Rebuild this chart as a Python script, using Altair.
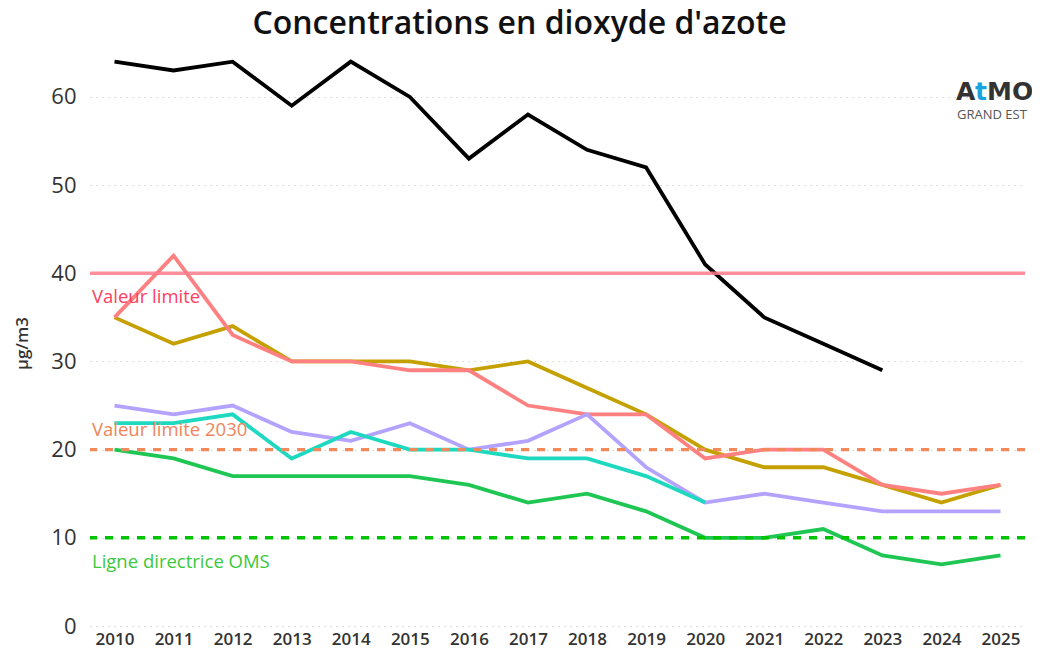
import altair as alt
import pandas as pd

years = list(range(2010, 2026))

series_names = ["Série A", "Série B", "Série C", "Série D", "Série E", "Série F"]
series_colors = ["#000000", "#C4A100", "#FF8080", "#B4A2FF", "#1ED9C0", "#1FC653"]

serie_a = [64, 63, 64, 59, 64, 60, 53, 58, 54, 52, 41, 35, 32, 29, None, None]
serie_b = [35, 32, 34, 30, 30, 30, 29, 30, 27, 24, 20, 18, 18, 16, 14, 16]
serie_c = [35, 42, 33, 30, 30, 29, 29, 25, 24, 24, 19, 20, 20, 16, 15, 16]
serie_d = [25, 24, 25, 22, 21, 23, 20, 21, 24, 18, 14, 15, 14, 13, 13, 13]
serie_e = [23, 23, 24, 19, 22, 20, 20, 19, 19, 17, 14, None, None, None, None, None]
serie_f = [20, 19, 17, 17, 17, 17, 16, 14, 15, 13, 10, 10, 11, 8, 7, 8]

ref_values = [40, 20, 10]
ref_labels = ["Valeur limite", "Valeur limite 2030", "Ligne directrice OMS"]
ref_line_colors = ["#FF7A8C", "#F08A5D", "#00C400"]
ref_text_colors = ["#FF3D5E", "#F0845A", "#3CC83C"]

all_series = [serie_a, serie_b, serie_c, serie_d, serie_e, serie_f]
rows = []
for name, vals in zip(series_names, all_series):
    for yr, v in zip(years, vals):
        if v is not None:
            rows.append({"annee": str(yr), "serie": name, "valeur": v})
df = pd.DataFrame(rows)

FONT = "Open Sans"

x_enc = alt.X(
    "annee:O",
    scale=alt.Scale(type="point", padding=0.415, domain=[str(y) for y in years]),
    axis=alt.Axis(title=None, labelAngle=0, labelFontSize=17, labelColor="#333333",
                  labelFont=FONT, labelFontWeight=600, domain=False, ticks=False,
                  grid=False, labelPadding=5),
)
y_scale = alt.Scale(domain=[0, 66], nice=False)
y_enc = alt.Y(
    "valeur:Q",
    scale=y_scale,
    axis=alt.Axis(title="µg/m3", values=[0, 10, 20, 30, 40, 50, 60], labelFontSize=22,
                  labelColor="#333333", labelFont=FONT, domain=False, ticks=False,
                  grid=True, gridColor="#d4d4d4", gridDash=[1.5, 4.5], gridWidth=1.2,
                  labelPadding=14, titleFont=FONT, titleFontSize=17, titleFontWeight=600,
                  titleColor="#333333", titlePadding=19, titleY=299),
)

lines = alt.Chart(df).mark_line(strokeWidth=3.8).encode(
    x=x_enc,
    y=y_enc,
    color=alt.Color("serie:N", scale=alt.Scale(domain=series_names, range=series_colors),
                    legend=None),
    order=alt.Order("annee:O"),
)

ref_df = pd.DataFrame({"valeur": ref_values, "label": ref_labels})

layers = []
dash_styles = [None, [8, 8], [8, 8]]
opac = [0.85, 1.0, 1.0]
for i in range(3):
    sub = ref_df.iloc[[i]]
    kw = dict(color=ref_line_colors[i], strokeWidth=3.4, opacity=opac[i])
    if dash_styles[i] is not None:
        kw["strokeDash"] = dash_styles[i]
    layers.append(alt.Chart(sub).mark_rule(**kw).encode(y=alt.Y("valeur:Q", scale=y_scale)))

text_dy = [24, -20, 24]
texts = []
for i in range(3):
    sub = ref_df.iloc[[i]]
    texts.append(
        alt.Chart(sub).mark_text(align="left", baseline="middle", fontSize=18.5, font=FONT,
                                 color=ref_text_colors[i], dy=text_dy[i]).encode(
            x=alt.value(2), y=alt.Y("valeur:Q", scale=y_scale), text="label:N")
    )

LOGO_FS = 25
logo_a = alt.Chart(pd.DataFrame({"t": ["A"]})).mark_text(
    align="left", baseline="alphabetic", fontSize=LOGO_FS, fontWeight="bold", font="DejaVu Sans",
    color="#333333").encode(x=alt.value(866), y=alt.value(56), text="t:N")
logo_t = alt.Chart(pd.DataFrame({"t": ["t"]})).mark_text(
    align="left", baseline="alphabetic", fontSize=LOGO_FS, fontWeight="bold", font="DejaVu Sans",
    color="#1BA3DD").encode(x=alt.value(885), y=alt.value(56), text="t:N")
logo_mo = alt.Chart(pd.DataFrame({"t": ["MO"]})).mark_text(
    align="left", baseline="alphabetic", fontSize=LOGO_FS, fontWeight="bold", font="DejaVu Sans",
    color="#333333").encode(x=alt.value(897), y=alt.value(56), text="t:N")
logo_ge = alt.Chart(pd.DataFrame({"t": ["GRAND EST"]})).mark_text(
    align="left", baseline="alphabetic", fontSize=13, font="Open Sans",
    color="#555555").encode(x=alt.value(867), y=alt.value(75), text="t:N")

chart = alt.layer(
    lines, *layers, *texts, logo_a, logo_t, logo_mo, logo_ge
).properties(
    width=935,
    height=582,
    autosize=alt.AutoSizeParams(type="none"),
    padding={"left": 82, "top": 36, "right": 7, "bottom": 26},
    title=alt.TitleParams("Concentrations en dioxyde d'azote", fontSize=32, font=FONT,
                          fontWeight=600, color="#111111", anchor="middle", offset=3, dx=-38),
).configure_view(stroke=None)

chart.save("out.html", embed_options={"renderer": "svg", "actions": False})
